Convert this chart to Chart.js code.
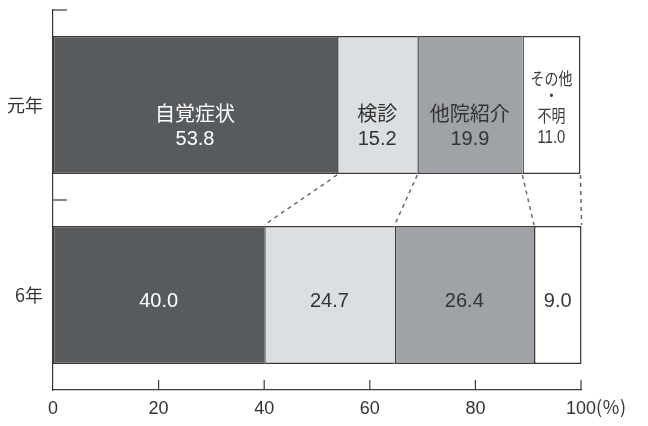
<!DOCTYPE html>
<html>
<head>
<meta charset="utf-8">
<script src="https://cdn.jsdelivr.net/npm/chart.js@4.4.1/dist/chart.umd.min.js"></script>
<style>
  html, body { margin: 0; background: #fff; }
  canvas { display: block; }
</style>
</head>
<body>
<canvas id="chart" width="648" height="426"></canvas>
<script>
// data (percent)
const years = ["元年", "6年"];
const segmentNames = ["自覚症状", "検診", "他院紹介", "その他・不明"];
const nameLines = [["自覚症状"], ["検診"], ["他院紹介"], ["その他", "・", "不明"]];
const firstYearValues = [53.8, 15.2, 19.9, 11.0];
const sixthYearValues = [40.0, 24.7, 26.4, 9.0];
const xTicks = [0, 20, 40, 60, 80, 100];
const xUnit = "(％)";

const segmentColors = ["#585b5d", "#dcdfe2", "#9fa3a7", "#ffffff"];
const textColors = ["#ffffff", "#333333", "#333333", "#3a3a3a"];
const INK = "#3a3a3a";
const NUM_FONT = "'Liberation Sans', Arial, sans-serif";
const JP_FONT = "'Noto Sans CJK JP', 'Noto Sans', sans-serif";

const last = segmentNames.length - 1;
const datasets = segmentNames.map((name, i) => ({
  label: name,
  data: [firstYearValues[i], sixthYearValues[i]],
  backgroundColor: segmentColors[i],
  borderColor: INK,
  // one shared line between neighbouring segments
  borderWidth: { left: 1.5, top: 1.5, bottom: 1.5, right: i === last ? 1.5 : 0 },
  borderSkipped: false,
  barPercentage: 0.726,
  categoryPercentage: 1,
  clip: false
}));

// narrow text, as in the small white segment
function condensedText(ctx, text, x, y) {
  ctx.save();
  ctx.translate(x, y);
  ctx.scale(0.82, 1);
  ctx.fillText(text, 0, 0);
  ctx.restore();
}

// dashed connectors, segment labels, inward ticks, unit
const decorPlugin = {
  id: "decor",
  afterDatasetsDraw(chart) {
    const ctx = chart.ctx;

    ctx.save();
    ctx.strokeStyle = "#6a6a6a";
    ctx.lineWidth = 1.5;
    ctx.setLineDash([4, 4]);
    segmentNames.forEach((_, i) => {
      const meta = chart.getDatasetMeta(i);
      const top = meta.data[0].getProps(["x", "y", "height"], true);
      const bot = meta.data[1].getProps(["x", "y", "height"], true);
      ctx.beginPath();
      ctx.moveTo(top.x, top.y + top.height / 2 + 1);
      ctx.lineTo(bot.x, bot.y - bot.height / 2 - 1);
      ctx.stroke();
    });
    ctx.restore();

    ctx.save();
    ctx.textAlign = "center";
    ctx.textBaseline = "middle";
    segmentNames.forEach((_, i) => {
      const meta = chart.getDatasetMeta(i);
      meta.data.forEach((bar, j) => {
        const p = bar.getProps(["x", "y", "base"], true);
        const cx = (p.x + p.base) / 2;
        const value = chart.data.datasets[i].data[j].toFixed(1);
        ctx.fillStyle = textColors[i];
        if (j === 1) {
          ctx.font = "20px " + NUM_FONT;
          ctx.fillText(value, cx, p.y + 6);
          return;
        }
        const lines = nameLines[i];
        if (lines.length === 1) {
          ctx.font = "20px " + JP_FONT;
          ctx.fillText(lines[0], cx, p.y + 8);
          ctx.font = "20px " + NUM_FONT;
          ctx.fillText(value, cx, p.y + 34);
        } else {
          ctx.font = "17px " + JP_FONT;
          condensedText(ctx, lines[0], cx, p.y - 26);
          condensedText(ctx, lines[1], cx, p.y - 9);
          condensedText(ctx, lines[2], cx, p.y + 11);
          ctx.font = "18px " + NUM_FONT;
          condensedText(ctx, value, cx, p.y + 33);
        }
      });
    });
    ctx.restore();
  },
  afterDraw(chart) {
    const ctx = chart.ctx;
    const xs = chart.scales.x, ys = chart.scales.y;
    ctx.save();
    ctx.strokeStyle = INK;
    ctx.lineWidth = 1.2;
    // y ticks at category boundaries, pointing inward
    const y0 = ys.getPixelForValue(0), y1 = ys.getPixelForValue(1);
    [ys.top, (y0 + y1) / 2].forEach((yy) => {
      ctx.beginPath();
      ctx.moveTo(ys.right, yy);
      ctx.lineTo(ys.right + 14, yy);
      ctx.stroke();
    });
    // x ticks pointing up
    xTicks.slice(1).forEach((v) => {
      const px = xs.getPixelForValue(v);
      ctx.beginPath();
      ctx.moveTo(px, xs.top);
      ctx.lineTo(px, xs.top - 10);
      ctx.stroke();
    });
    // unit after the last tick label
    ctx.font = "18px " + NUM_FONT;
    const w = ctx.measureText(String(xTicks[xTicks.length - 1])).width;
    ctx.font = "18px " + JP_FONT;
    ctx.fillStyle = "#333";
    ctx.textAlign = "left";
    ctx.textBaseline = "middle";
    ctx.fillText(xUnit, xs.getPixelForValue(xTicks[xTicks.length - 1]) + w / 2, xs.top + 17);
    ctx.restore();
  }
};

new Chart(document.getElementById("chart"), {
  type: "bar",
  data: { labels: years, datasets },
  plugins: [decorPlugin],
  options: {
    responsive: false,
    animation: false,
    indexAxis: "y",
    layout: { padding: { top: 10, right: 67, left: 0, bottom: 0 } },
    plugins: { legend: { display: false }, tooltip: { enabled: false } },
    scales: {
      x: {
        stacked: true,
        min: 0,
        max: 100,
        afterBuildTicks: (scale) => { scale.ticks = xTicks.map((v) => ({ value: v })); },
        grid: { display: false, drawTicks: false },
        border: { display: true, color: INK, width: 1.2 },
        ticks: { color: "#333", padding: 8, font: { family: NUM_FONT, size: 18 }, maxRotation: 0 },
        afterFit: (scale) => { scale.height = 36; scale.paddingLeft = 0; scale.paddingRight = 0; }
      },
      y: {
        stacked: true,
        offset: true,
        grid: { display: false, drawTicks: false },
        border: { display: true, color: INK, width: 1.2 },
        ticks: { color: "#333", padding: 10, font: { family: JP_FONT, size: 18 } },
        afterFit: (scale) => { scale.width = 53; scale.paddingTop = 0; scale.paddingBottom = 0; }
      }
    }
  }
});
</script>
</body>
</html>
